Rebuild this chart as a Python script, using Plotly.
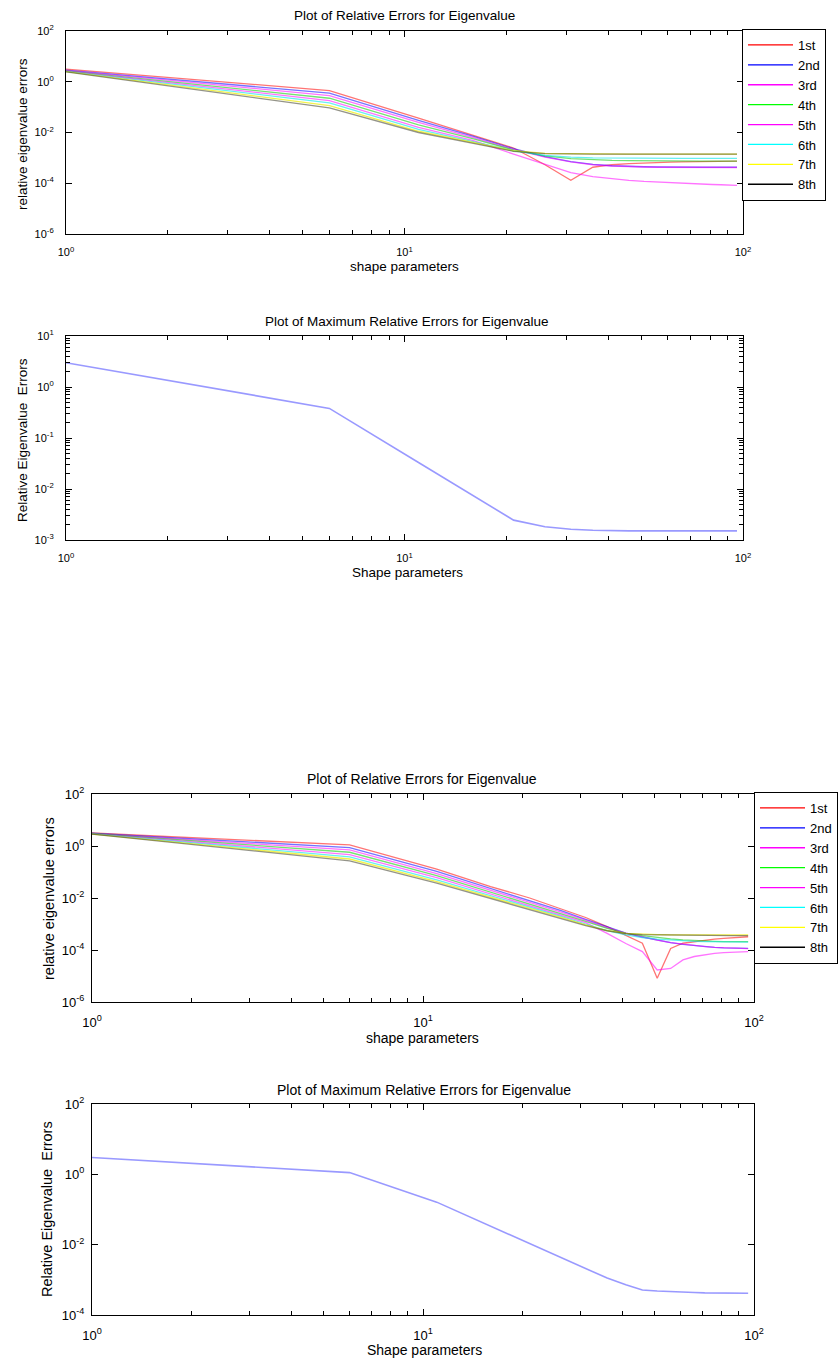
import plotly.graph_objects as go

W, H = 839, 1361
FONT = "Liberation Sans, Arial, sans-serif"

# ---------------- data ----------------
shape_params = [1, 6, 11, 16, 21, 26, 31, 36, 41, 46, 51, 56, 61, 66, 71, 76, 81, 86, 91, 96]
series_names = ["1st", "2nd", "3rd", "4th", "5th", "6th", "7th", "8th"]
series_colors = ["#ff0000", "#0000ff", "#ff00ff", "#00ff00", "#ff00ff", "#00ffff", "#ffff00", "#000000"]
line_colors = ["rgba(255,0,0,0.55)", "rgba(0,0,255,0.55)", "rgba(255,0,255,0.55)", "rgba(0,200,0,0.55)",
               "rgba(255,0,255,0.55)", "rgba(0,230,230,0.6)", "rgba(235,235,0,0.7)", "rgba(60,60,40,0.55)"]

# Top figure: relative errors per eigenvalue
top_1st = [3.16, 0.447, 3.72e-2, 7.94e-3, 2.45e-3, 5.37e-4, 1.32e-4, 4.27e-4, 5.37e-4, 5.89e-4,
           6.31e-4, 6.61e-4, 6.76e-4, 6.92e-4, 7.08e-4, 7.08e-4, 7.24e-4, 7.24e-4, 7.41e-4, 7.41e-4]
top_2nd = [2.88, 0.355, 3.02e-2, 7.08e-3, 2.29e-3, 1.12e-3, 7.08e-4, 5.50e-4, 4.90e-4, 4.57e-4,
           4.47e-4, 4.37e-4, 4.27e-4, 4.27e-4, 4.27e-4, 4.27e-4, 4.27e-4, 4.27e-4, 4.27e-4, 4.27e-4]
top_3rd = [2.82, 0.282, 2.51e-2, 6.31e-3, 2.14e-3, 1.07e-3, 6.92e-4, 5.37e-4, 4.79e-4, 4.47e-4,
           4.37e-4, 4.27e-4, 4.27e-4, 4.17e-4, 4.17e-4, 4.17e-4, 4.17e-4, 4.17e-4, 4.17e-4, 4.17e-4]
top_4th = [2.69, 0.224, 2.00e-2, 5.62e-3, 2.04e-3, 1.20e-3, 9.33e-4, 8.32e-4, 7.94e-4, 7.76e-4,
           7.59e-4, 7.59e-4, 7.41e-4, 7.41e-4, 7.41e-4, 7.41e-4, 7.41e-4, 7.41e-4, 7.41e-4, 7.41e-4]
top_5th = [2.63, 0.182, 1.585e-2, 4.79e-3, 1.41e-3, 5.62e-4, 2.63e-4, 1.82e-4, 1.48e-4, 1.29e-4,
           1.175e-4, 1.10e-4, 1.05e-4, 1.00e-4, 9.55e-5, 9.12e-5, 8.91e-5, 8.71e-5, 8.51e-5, 8.32e-5]
top_6th = [2.57, 0.148, 1.32e-2, 4.27e-3, 1.91e-3, 1.26e-3, 1.07e-3, 1.00e-3, 9.77e-4, 9.77e-4,
           9.55e-4, 9.55e-4, 9.55e-4, 9.55e-4, 9.55e-4, 9.55e-4, 9.55e-4, 9.55e-4, 9.55e-4, 9.55e-4]
top_7th = [2.51, 0.115, 1.12e-2, 3.98e-3, 1.91e-3, 1.51e-3, 1.45e-3, 1.41e-3, 1.41e-3, 1.41e-3,
           1.41e-3, 1.41e-3, 1.41e-3, 1.41e-3, 1.41e-3, 1.41e-3, 1.41e-3, 1.41e-3, 1.41e-3, 1.41e-3]
top_8th = [2.45, 9.33e-2, 1.00e-2, 3.72e-3, 1.82e-3, 1.48e-3, 1.41e-3, 1.41e-3, 1.41e-3, 1.41e-3,
           1.41e-3, 1.41e-3, 1.41e-3, 1.41e-3, 1.41e-3, 1.41e-3, 1.41e-3, 1.41e-3, 1.41e-3, 1.41e-3]
top_max = [3.0, 0.380, 3.31e-2, 7.41e-3, 2.45e-3, 1.82e-3, 1.62e-3, 1.55e-3, 1.51e-3, 1.51e-3,
           1.51e-3, 1.51e-3, 1.51e-3, 1.51e-3, 1.51e-3, 1.51e-3, 1.51e-3, 1.51e-3, 1.51e-3, 1.51e-3]

# Bottom figure: relative errors per eigenvalue
bot_1st = [3.16, 1.10, 0.129, 2.75e-2, 1.00e-2, 3.98e-3, 1.78e-3, 7.94e-4, 3.55e-4, 1.82e-4,
           8.13e-6, 1.15e-4, 1.82e-4, 2.09e-4, 2.40e-4, 2.63e-4, 2.82e-4, 3.02e-4, 3.16e-4, 3.24e-4]
bot_2nd = [3.09, 0.871, 0.105, 2.34e-2, 8.32e-3, 3.31e-3, 1.51e-3, 7.59e-4, 4.47e-4, 3.16e-4,
           2.40e-4, 1.91e-4, 1.66e-4, 1.48e-4, 1.35e-4, 1.26e-4, 1.20e-4, 1.175e-4, 1.15e-4, 1.15e-4]
bot_3rd = [3.02, 0.708, 8.71e-2, 2.00e-2, 7.08e-3, 2.95e-3, 1.41e-3, 7.24e-4, 4.47e-4, 3.16e-4,
           2.40e-4, 1.91e-4, 1.66e-4, 1.48e-4, 1.35e-4, 1.26e-4, 1.20e-4, 1.175e-4, 1.15e-4, 1.12e-4]
bot_4th = [3.02, 0.575, 7.24e-2, 1.70e-2, 6.03e-3, 2.63e-3, 1.26e-3, 6.76e-4, 4.37e-4, 3.55e-4,
           3.02e-4, 2.69e-4, 2.45e-4, 2.29e-4, 2.19e-4, 2.14e-4, 2.09e-4, 2.09e-4, 2.09e-4, 2.09e-4]
bot_5th = [2.95, 0.468, 6.03e-2, 1.45e-2, 5.01e-3, 2.19e-3, 1.12e-3, 4.37e-4, 1.78e-4, 8.71e-5,
           1.70e-5, 1.95e-5, 4.17e-5, 5.62e-5, 6.61e-5, 7.41e-5, 7.94e-5, 8.32e-5, 8.51e-5, 8.71e-5]
bot_6th = [2.95, 0.380, 5.01e-2, 1.26e-2, 4.47e-3, 2.00e-3, 1.00e-3, 5.62e-4, 3.80e-4, 3.02e-4,
           2.63e-4, 2.40e-4, 2.24e-4, 2.14e-4, 2.09e-4, 2.04e-4, 2.00e-4, 2.00e-4, 2.00e-4, 2.00e-4]
bot_7th = [2.88, 0.316, 4.27e-2, 1.10e-2, 3.98e-3, 1.82e-3, 9.33e-4, 5.62e-4, 4.37e-4, 3.98e-4,
           3.89e-4, 3.80e-4, 3.80e-4, 3.80e-4, 3.80e-4, 3.80e-4, 3.80e-4, 3.80e-4, 3.80e-4, 3.80e-4]
bot_8th = [2.88, 0.269, 3.72e-2, 9.77e-3, 3.55e-3, 1.66e-3, 8.71e-4, 5.50e-4, 4.27e-4, 3.89e-4,
           3.80e-4, 3.72e-4, 3.72e-4, 3.63e-4, 3.63e-4, 3.63e-4, 3.55e-4, 3.55e-4, 3.55e-4, 3.55e-4]
bot_max = [3.0, 1.12, 0.162, 3.31e-2, 1.07e-2, 4.37e-3, 2.09e-3, 1.12e-3, 7.24e-4, 5.13e-4,
           4.79e-4, 4.57e-4, 4.47e-4, 4.37e-4, 4.27e-4, 4.27e-4, 4.17e-4, 4.17e-4, 4.17e-4, 4.17e-4]

top_series = [top_1st, top_2nd, top_3rd, top_4th, top_5th, top_6th, top_7th, top_8th]
bot_series = [bot_1st, bot_2nd, bot_3rd, bot_4th, bot_5th, bot_6th, bot_7th, bot_8th]

x_tickvals = [1, 10, 100]
x_ticktext = ["10<sup>0</sup>", "10<sup>1</sup>", "10<sup>2</sup>"]
x_minor = [2, 3, 4, 5, 6, 7, 8, 9, 20, 30, 40, 50, 60, 70, 80, 90]

y1_tickvals = [1e-6, 1e-4, 1e-2, 1, 100]
y1_ticktext = ["10<sup>-6</sup>", "10<sup>-4</sup>", "10<sup>-2</sup>", "10<sup>0</sup>", "10<sup>2</sup>"]
y2_tickvals = [1e-3, 1e-2, 1e-1, 1, 10]
y2_ticktext = ["10<sup>-3</sup>", "10<sup>-2</sup>", "10<sup>-1</sup>", "10<sup>0</sup>", "10<sup>1</sup>"]
y2_minor = [m * d for d in (1e-3, 1e-2, 1e-1, 1) for m in (2, 3, 4, 5, 6, 7, 8, 9)]
y4_tickvals = [1e-4, 1e-2, 1, 100]
y4_ticktext = ["10<sup>-4</sup>", "10<sup>-2</sup>", "10<sup>0</sup>", "10<sup>2</sup>"]

# ---------------- layout helpers (pixel -> paper) ----------------
def xd(l, r):
    return [l / W, r / W]

def yd(t, b):
    return [1 - b / H, 1 - t / H]

def px(x):
    return x / W

def py(y):
    return 1 - y / H

fig = go.Figure()

for name, col, lc, ys in zip(series_names, series_colors, line_colors, top_series):
    fig.add_trace(go.Scatter(x=shape_params, y=ys, mode="lines", line=dict(color=lc, width=1.3),
                             showlegend=False, xaxis="x", yaxis="y", hoverinfo="skip"))
for name, col in zip(series_names, series_colors):
    fig.add_trace(go.Scatter(x=[None], y=[None], mode="lines", line=dict(color=col, width=1.3),
                             name=name, legend="legend", xaxis="x", yaxis="y"))
fig.add_trace(go.Scatter(x=shape_params, y=top_max, mode="lines",
                         line=dict(color="rgba(70,70,255,0.55)", width=1.6),
                         showlegend=False, xaxis="x2", yaxis="y2"))

for name, col, lc, ys in zip(series_names, series_colors, line_colors, bot_series):
    fig.add_trace(go.Scatter(x=shape_params, y=ys, mode="lines", line=dict(color=lc, width=1.3),
                             showlegend=False, xaxis="x3", yaxis="y3", hoverinfo="skip"))
for name, col in zip(series_names, series_colors):
    fig.add_trace(go.Scatter(x=[None], y=[None], mode="lines", line=dict(color=col, width=1.3),
                             name=name, legend="legend2", xaxis="x3", yaxis="y3"))
fig.add_trace(go.Scatter(x=shape_params, y=bot_max, mode="lines",
                         line=dict(color="rgba(70,70,255,0.55)", width=1.6),
                         showlegend=False, xaxis="x4", yaxis="y4"))


def xaxis(dom, anchor, fs, standoff):
    return dict(type="log", range=[0, 2], domain=dom, anchor=anchor, showline=True, linecolor="black",
                linewidth=1.2, mirror="allticks", ticks="inside", ticklen=6, tickcolor="black",
                tickvals=x_tickvals, ticktext=x_ticktext, showgrid=False, zeroline=False,
                tickfont=dict(family=FONT, size=fs, color="black"), ticklabelstandoff=standoff,
                minor=dict(tickvals=x_minor, ticks="inside", ticklen=4, tickcolor="black", showgrid=False))


def yaxis(dom, anchor, rng, tv, tt, fs, standoff, minor=None):
    d = dict(type="log", range=rng, domain=dom, anchor=anchor, showline=True, linecolor="black",
             linewidth=1.2, mirror="allticks", ticks="inside", ticklen=6, tickcolor="black",
             tickvals=tv, ticktext=tt, showgrid=False, zeroline=False,
             tickfont=dict(family=FONT, size=fs, color="black"), ticklabelstandoff=standoff)
    if minor is not None:
        d["minor"] = dict(tickvals=minor, ticks="inside", ticklen=4, tickcolor="black", showgrid=False)
    return d


P1 = (66, 743, 31, 234)
P2 = (66, 743, 336, 540)
P3 = (92, 754, 794, 1002)
P4 = (92, 754, 1104, 1315)

legend_common = dict(xanchor="left", yanchor="top", bgcolor="white", bordercolor="black", borderwidth=1,
                     font=dict(family=FONT, size=13, color="black"), itemwidth=45, tracegroupgap=0,
                     entrywidth=60, entrywidthmode="pixels")

fig.update_layout(
    width=W, height=H, margin=dict(l=0, r=0, t=0, b=0, autoexpand=False),
    paper_bgcolor="white", plot_bgcolor="white",
    font=dict(family=FONT, color="black"),
    xaxis=xaxis(xd(P1[0], P1[1]), "y", 11, 8),
    yaxis=yaxis(yd(P1[2], P1[3]), "x", [-6, 2], y1_tickvals, y1_ticktext, 11, 9),
    xaxis2=xaxis(xd(P2[0], P2[1]), "y2", 11, 8),
    yaxis2=yaxis(yd(P2[2], P2[3]), "x2", [-3, 1], y2_tickvals, y2_ticktext, 11, 9, y2_minor),
    xaxis3=xaxis(xd(P3[0], P3[1]), "y3", 13, 8),
    yaxis3=yaxis(yd(P3[2], P3[3]), "x3", [-6, 2], y1_tickvals, y1_ticktext, 13, 4),
    xaxis4=xaxis(xd(P4[0], P4[1]), "y4", 13, 8),
    yaxis4=yaxis(yd(P4[2], P4[3]), "x4", [-4, 2], y4_tickvals, y4_ticktext, 13, 4),
    legend=dict(x=px(742), y=py(29), **legend_common),
    legend2=dict(x=px(754), y=py(792), **legend_common),
)


def note(text, x, y, size, angle=0):
    fig.add_annotation(text=text, x=px(x), y=py(y), xref="paper", yref="paper", showarrow=False,
                       xanchor="center", yanchor="middle", textangle=angle,
                       font=dict(family=FONT, size=size, color="black"))


note("Plot of Relative Errors for Eigenvalue", 404, 15, 13.5)
note("shape parameters", 404, 266, 13.5)
note("relative eigenvalue errors", 22, 134, 13.5, -90)

note("Plot of Maximum Relative Errors for Eigenvalue", 407, 321, 13.5)
note("Shape parameters", 407, 572, 13.5)
note("Relative Eigenvalue  Errors", 22, 440, 13.5, -90)

note("Plot of Relative Errors for Eigenvalue", 422, 779, 14)
note("shape parameters", 422, 1038, 14)
note("relative eigenvalue errors", 49, 899, 14.5, -90)

note("Plot of Maximum Relative Errors for Eigenvalue", 424, 1090, 14)
note("Shape parameters", 424, 1350, 14)
note("Relative Eigenvalue  Errors", 47, 1209, 14.5, -90)

fig.write_html("out.html", config={"displayModeBar": False},
               post_script="document.body.style.margin='0px';document.body.style.overflow='hidden';")
